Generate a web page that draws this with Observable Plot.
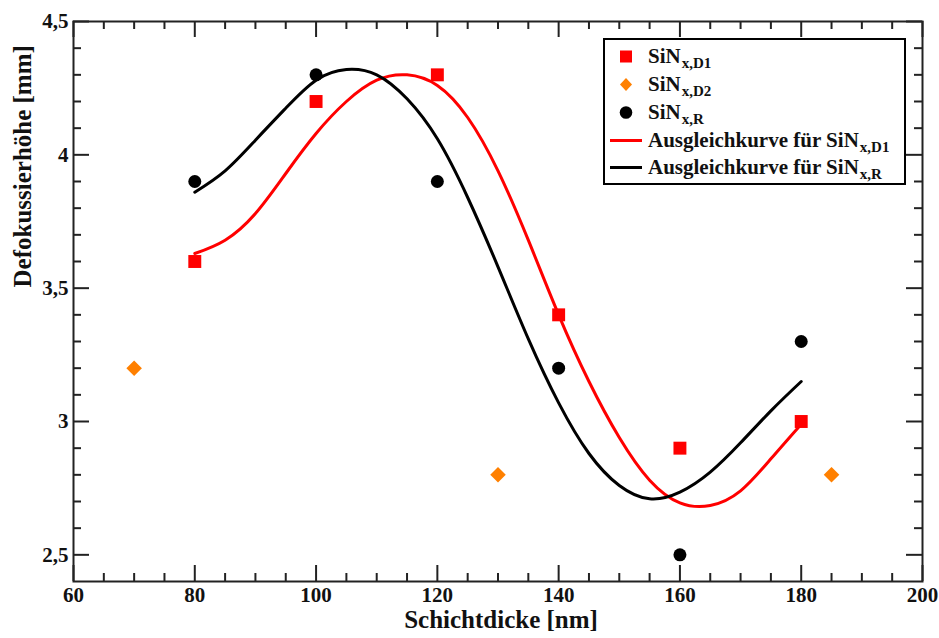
<!DOCTYPE html>
<html><head><meta charset="utf-8">
<script src="https://cdn.jsdelivr.net/npm/d3@7"></script>
<script src="https://cdn.jsdelivr.net/npm/@observablehq/plot@0.6"></script>
<style>
body{margin:0;background:#fff}
#wrap{position:relative;width:939px;height:638px;overflow:hidden}
#legend{position:absolute;left:603px;top:38px;width:303px;height:147px;border:2px solid #000;box-sizing:border-box;background:#fff;font-family:"Liberation Serif",serif;font-weight:bold;font-size:21px;color:#111}
.row{position:absolute;left:0;height:27px;line-height:27px;white-space:nowrap}
.row svg{position:absolute;left:0;top:0}
.row span.t{position:absolute;left:43px;top:0}
.sub{font-size:15px;position:relative;top:5px;margin-left:1px}
</style>
</head><body><div id="wrap"></div>
<script>
// measured points
const d1X = [80, 100, 120, 140, 160, 180];
const d1Y = [3.6, 4.2, 4.3, 3.4, 2.9, 3.0];
const d2X = [70, 130, 185];
const d2Y = [3.2, 2.8, 2.8];
const rX = [80, 100, 120, 140, 160, 180];
const rY = [3.9, 4.3, 3.9, 3.2, 2.5, 3.3];
// fit curves
const fitD1X = [80, 85, 90, 95, 100, 105, 110, 115, 120, 125, 130, 135, 140, 145, 150, 155, 160, 165, 170, 175, 180];
const fitD1Y = [3.63, 3.68, 3.78, 3.93, 4.08, 4.20, 4.28, 4.30, 4.26, 4.14, 3.94, 3.68, 3.40, 3.15, 2.94, 2.78, 2.695, 2.685, 2.74, 2.86, 2.99];
const fitRX = [80, 85, 90, 95, 100, 105, 110, 115, 120, 125, 130, 135, 140, 145, 150, 155, 160, 165, 170, 175, 180];
const fitRY = [3.86, 3.94, 4.055, 4.175, 4.28, 4.32, 4.30, 4.21, 4.06, 3.84, 3.58, 3.31, 3.07, 2.88, 2.76, 2.71, 2.735, 2.81, 2.92, 3.04, 3.15];
// ticks
const xMajor = [60, 80, 100, 120, 140, 160, 180, 200];
const xMinor = [65, 70, 75, 85, 90, 95, 105, 110, 115, 125, 130, 135, 145, 150, 155, 165, 170, 175, 185, 190, 195];
const yMajor = [2.5, 3, 3.5, 4, 4.5];
const yMinor = [2.6, 2.7, 2.8, 2.9, 3.1, 3.2, 3.3, 3.4, 3.6, 3.7, 3.8, 3.9, 4.1, 4.2, 4.3, 4.4];
const xTitle = "Schichtdicke [nm]";
const yTitle = "Defokussierhöhe [mm]";
// legend
const legendLabels = [["SiN", "x,D1"], ["SiN", "x,D2"], ["SiN", "x,R"], ["Ausgleichkurve für SiN", "x,D1"], ["Ausgleichkurve für SiN", "x,R"]];
const legendKinds = ["square", "diamond", "circle", "line", "line"];
const legendColors = ["#ff0000", "#ff8000", "#000000", "#ff0000", "#000000"];

const zip = (xs, ys) => xs.map((x, i) => ({x, y: ys[i]}));
const W = 939, H = 638, mL = 73, mR = 17, mT = 21, mB = 57;
const fw = W - mL - mR, fh = H - mT - mB;
const fmt = d => String(d).replace(".", ",");

const chart = Plot.plot({
  width: W, height: H,
  marginLeft: mL, marginRight: mR, marginTop: mT, marginBottom: mB,
  style: {fontFamily: "Liberation Serif, serif", fontWeight: "bold", fontSize: "21px", background: "#fff", color: "#111"},
  x: {domain: [60, 200], ticks: xMajor, tickSize: 0, tickPadding: 6, label: null},
  y: {domain: [2.4, 4.5], ticks: yMajor, tickSize: 0, tickPadding: 5, tickFormat: fmt, label: null},
  marks: [
    Plot.tickX(xMajor, {x: d => d, insetTop: fh - 16, stroke: "#222", strokeWidth: 2}),
    Plot.tickX(xMajor, {x: d => d, insetBottom: fh - 16, stroke: "#222", strokeWidth: 2}),
    Plot.tickX(xMinor, {x: d => d, insetTop: fh - 8, stroke: "#222", strokeWidth: 2}),
    Plot.tickX(xMinor, {x: d => d, insetBottom: fh - 8, stroke: "#222", strokeWidth: 2}),
    Plot.tickY(yMajor, {y: d => d, insetRight: fw - 16, stroke: "#222", strokeWidth: 2}),
    Plot.tickY(yMajor, {y: d => d, insetLeft: fw - 16, stroke: "#222", strokeWidth: 2}),
    Plot.tickY(yMinor, {y: d => d, insetRight: fw - 8, stroke: "#222", strokeWidth: 2}),
    Plot.tickY(yMinor, {y: d => d, insetLeft: fw - 8, stroke: "#222", strokeWidth: 2}),
    Plot.frame({stroke: "#222", strokeWidth: 2}),
    Plot.line(zip(fitD1X, fitD1Y), {x: "x", y: "y", stroke: "#ff0000", strokeWidth: 3, curve: "natural"}),
    Plot.line(zip(fitRX, fitRY), {x: "x", y: "y", stroke: "#000000", strokeWidth: 3, curve: "natural"}),
    Plot.dot(zip(d1X, d1Y), {x: "x", y: "y", symbol: "square", r: 7.3, fill: "#ff0000", stroke: null}),
    Plot.dot(zip(d2X, d2Y), {x: "x", y: "y", symbol: "diamond2", r: 7, fill: "#ff8000", stroke: null}),
    Plot.dot(zip(rX, rY), {x: "x", y: "y", symbol: "circle", r: 6.5, fill: "#000000", stroke: null}),
    Plot.text([xTitle], {frameAnchor: "bottom", dy: 46, dx: 3, text: d => d, fontSize: 25, fontWeight: "bold", fontFamily: "Liberation Serif, serif", fill: "#111"}),
    Plot.text([yTitle], {frameAnchor: "left", dx: -51, dy: -14, rotate: -90, text: d => d, fontSize: 25, fontWeight: "bold", fontFamily: "Liberation Serif, serif", fill: "#111"})
  ]
});
const wrap = document.getElementById("wrap");
wrap.appendChild(chart);

// legend
const leg = document.createElement("div");
leg.id = "legend";
const rowCenters = [16, 44, 72, 100, 127];
legendLabels.forEach((lab, i) => {
  const row = document.createElement("div");
  row.className = "row";
  row.style.top = (rowCenters[i] - 13.5) + "px";
  const kind = legendKinds[i], c = legendColors[i];
  let sym = "";
  if (kind === "square") sym = `<rect x="15" y="7.5" width="12" height="12" fill="${c}"/>`;
  else if (kind === "diamond") sym = `<path d="M21,7 L27,13.5 L21,20 L15,13.5 Z" fill="${c}"/>`;
  else if (kind === "circle") sym = `<circle cx="21" cy="13.5" r="6.3" fill="${c}"/>`;
  else sym = `<line x1="5" x2="37" y1="13.5" y2="13.5" stroke="${c}" stroke-width="3"/>`;
  row.innerHTML = `<svg width="42" height="27">${sym}</svg><span class="t">${lab[0]}<span class="sub">${lab[1]}</span></span>`;
  leg.appendChild(row);
});
wrap.appendChild(leg);
</script></body></html>
